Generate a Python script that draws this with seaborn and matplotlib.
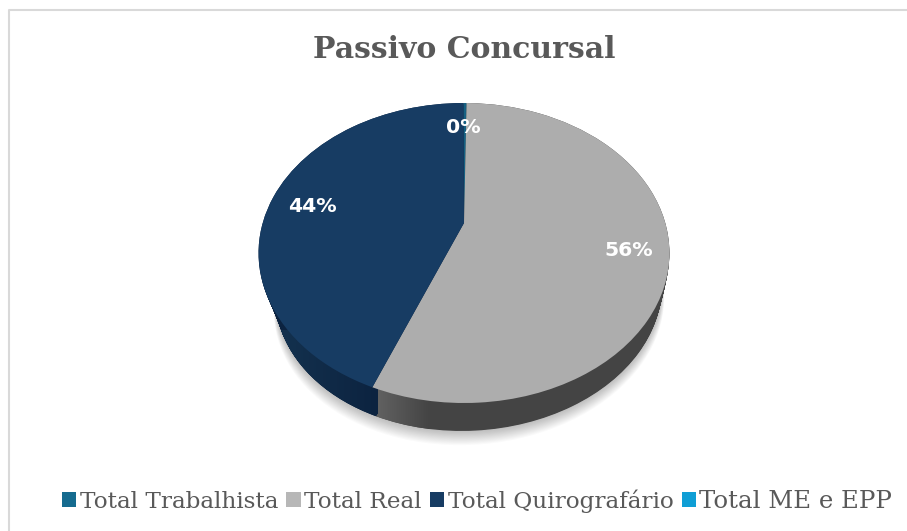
import numpy as np
import matplotlib
matplotlib.use('Agg')
import matplotlib.pyplot as plt
import seaborn as sns
from matplotlib.colors import LinearSegmentedColormap
from matplotlib.patches import Patch
from matplotlib.path import Path
from matplotlib.transforms import Affine2D, IdentityTransform, Transform

TITLE = 'Passivo Concursal'
CATEGORIES = ['Total Trabalhista', 'Total Real', 'Total Quirografário', 'Total ME e EPP']
VALUES = [0.3, 55.8, 43.9, 0.0]

TOP_COLORS = ['#156082', '#adadad', '#173c63', '#0f9ed5']
SIDE_COLORS = ['#0c3a4e', '#444444', '#0c2340', '#085f80']
LEGEND_COLORS = ['#156b8f', '#b7b7b7', '#173c63', '#0f9ed5']
TEXT_GREY = '#595959'


class Perspective(Transform):
    """Tilts the unit-circle pie into pixel coordinates (y points down).

    t = 0 is the top face, t = 1 the bottom face of the slab.
    """
    input_dims = 2
    output_dims = 2

    def __init__(self, t=0.0, grow=0.0):
        super().__init__()
        self.t = t
        self.grow = grow

    def transform_non_affine(self, values):
        values = np.asarray(values, dtype=float)
        w = 1 + 0.2 * values[:, 1]
        sx = 1 - 0.06 * self.t + self.grow
        sy = 1 - 0.067 * self.t + self.grow
        x = 464 - 2.5 * self.t + sx * 201.3 * values[:, 0] / w
        y = 223 + 40 * self.t - sy * 144 * values[:, 1] / w
        # the lower face of the original sits slightly skewed
        x = x + self.t * 0.05 * (431 - y)
        return np.column_stack([x, y])


def draw_pie(ax, values, colors, t, zorder, grow=0.0, alpha=None, **kwargs):
    result = ax.pie(values, colors=colors, startangle=90.2, counterclock=False,
                    wedgeprops={'linewidth': 0, 'alpha': alpha}, **kwargs)
    for wedge in result[0]:
        wedge.set_transform(Perspective(t, grow) + ax.transData)
        wedge.set_zorder(zorder)
    return result


def display_path(wedge):
    return wedge.get_transform().transform_path(wedge.get_path())


def add_side_gradient(ax, layers, index, extent, colors):
    paths = [display_path(wedges[index]) for wedges in layers]
    cmap = LinearSegmentedColormap.from_list('side', colors)
    im = ax.imshow(np.linspace(0, 1, 256)[None, :], cmap=cmap, extent=extent,
                   aspect='auto', zorder=2, interpolation='bilinear')
    im.set_clip_path(Path.make_compound_path(*paths), IdentityTransform())


def main():
    sns.set_theme(style='white')
    plt.rcParams['font.family'] = ['DejaVu Serif']

    fig = plt.figure(figsize=(9.07, 5.31), dpi=100)
    ax = fig.add_axes([0, 0, 1, 1])
    palette = sns.color_palette(TOP_COLORS)

    # soft shadow under the pie
    for i in range(14):
        draw_pie(ax, [1], ['#000000'], 1 + i * 0.025, 0.5, grow=i * 0.0022, alpha=0.018)

    # stacked layers make the side wall, deepest first
    layers = []
    for t in np.linspace(1, 0, 42):
        layers.append(draw_pie(ax, VALUES, SIDE_COLORS, t, 1)[0])

    top = draw_pie(ax, VALUES, palette, 0, 3,
                   autopct=lambda pct: f'{pct:.0f}%' if pct > 0 else '',
                   pctdistance=0.8)
    nudges = [(-2, 4), (2, 4), (2, 4), (0, 0)]
    for label, nudge in zip(top[2], nudges):
        label.set_transform(Perspective() + Affine2D().translate(*nudge) + ax.transData)
        label.set(color='white', fontsize=14.7, fontweight='bold', family='DejaVu Sans', zorder=5)

    ax.set_aspect('auto')
    ax.set_xlim(0, 907)
    ax.set_ylim(531, 0)
    ax.axis('off')
    fig.canvas.draw()

    # the wall only shows in the crescent between the two faces, no tangent hull
    faces = Path.make_compound_path(*[display_path(w) for w in layers[0] + top[0]])
    for wedges in layers:
        for wedge in wedges:
            wedge.set_clip_path(faces, IdentityTransform())

    add_side_gradient(ax, layers, 1, (374, 430, 440, 380), ['#636363', '#444444'])
    add_side_gradient(ax, layers, 2, (275, 378, 440, 330), ['#14324f', '#0c2340'])
    ax.set_xlim(0, 907)
    ax.set_ylim(531, 0)

    ax.plot([907, 9, 9], [9.5, 9.5, 531], color='#d9d9d9', linewidth=1.5, zorder=0.2)

    ax.text(464, 49, TITLE, ha='center', va='center', color=TEXT_GREY,
            fontsize=21.5, fontweight='bold')

    handles = [Patch(facecolor=c, linewidth=0) for c in LEGEND_COLORS]
    legend = ax.legend(handles, CATEGORIES, ncol=4, loc='center left',
                       bbox_to_anchor=(62 / 907, 1 - 501 / 531), frameon=False, fontsize=16.7,
                       labelcolor=TEXT_GREY, handlelength=0.62, handleheight=0.56,
                       handletextpad=0.15, columnspacing=0.35, borderpad=0, borderaxespad=0)
    # the last label runs wider in the original
    legend.get_texts()[3].set_fontsize(17.6)

    fig.savefig('out.png', dpi=100)


if __name__ == '__main__':
    main()
